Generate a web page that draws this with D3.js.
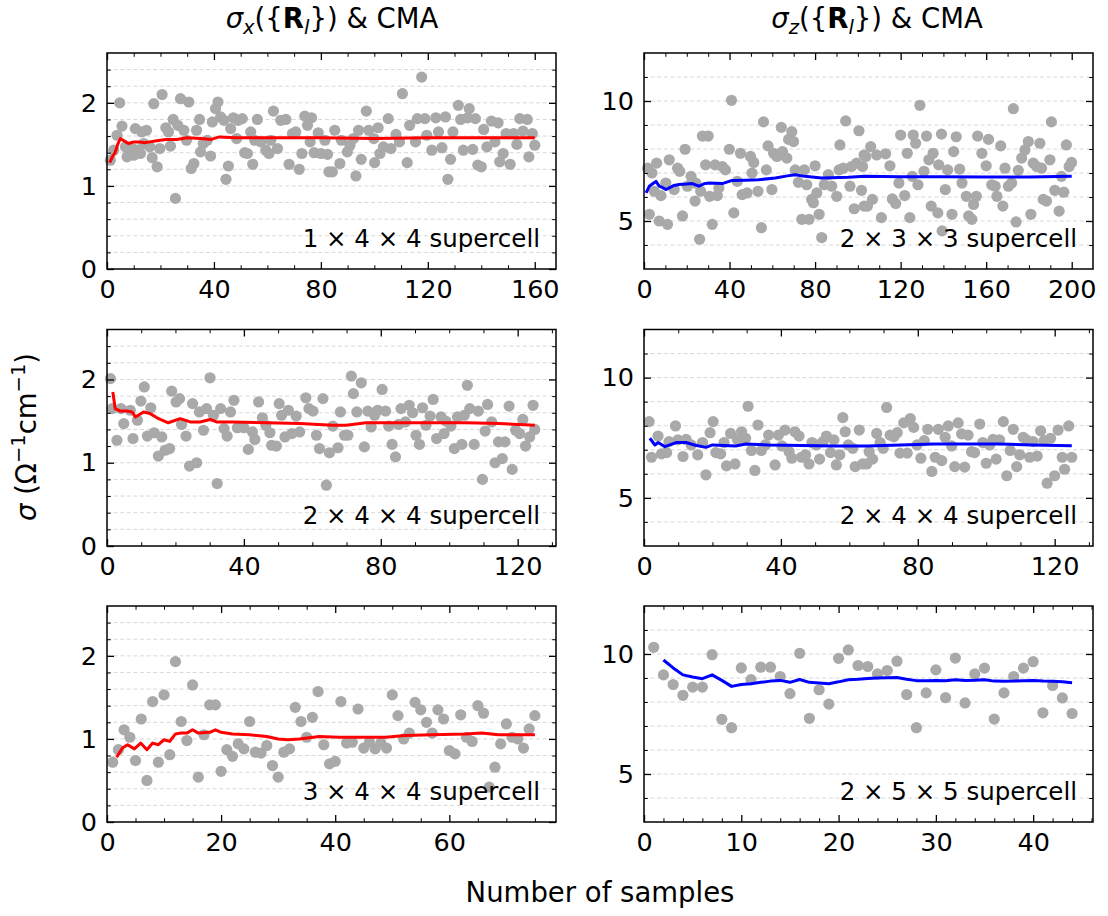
<!DOCTYPE html>
<html><head><meta charset="utf-8">
<script src="https://cdn.jsdelivr.net/npm/d3@7/dist/d3.min.js"></script>
<style>body{margin:0;background:#fff}text{font-family:"DejaVu Sans",sans-serif;fill:#000}</style>
</head><body><svg id="c" width="1108" height="916"></svg>
<script>
// ---------- data ----------
const tlX=[1.25,2.5,3.75,4.75,5.6,7.5,6.9,9.4,10,10.6,11.25,12.5,13,13.75,14.75,16,16.9,17.5,18.75,19.75,20.6,22,23,23.75,24.75,25.6,26.5,27.5,28.75,29.75,30.6,31.5,32.5,33.5,34.6,35,36,37.5,38.75,39.4,40.6,41.5,42.5,43.75,44.5,45.4,46.25,47.25,48.5,49,50.6,51.5,52.5,53.75,54.5,55.25,56.25,57.5,59.4,60.6,61.25,62.25,63.75,65,66.9,68.1,69.4,70.6,71.9,72.9,74,75,76,76.5,77.5,79,80,81.5,82.5,83,84.3,85.2,87.1,87.7,89.9,90.9,92.2,93.1,94.1,95.1,97,97.9,99.8,100.1,101.4,102.1,103.4,105.2,106.2,108.1,109.4,110.5,112.3,113.2,115.4,116.1,117.7,118.9,119.6,121.5,123,124,125.3,126.6,127.5,128.5,129.4,131.4,132.3,133.3,134.9,135.5,136.8,137.8,138.7,140,140.9,142.1,143.8,145.1,146.3,146.9,148.2,149.3,150.8,152.1,153.3,154.4,155.6,157.2,157.8,159.1,160];
const tlY=[1.31,1.43,1.61,2.0,1.72,1.35,1.47,1.45,1.37,1.69,1.43,1.39,1.65,1.51,1.67,1.47,1.34,1.99,1.23,1.45,2.1,1.70,1.65,1.48,1.8,0.85,1.73,2.05,1.67,1.55,2.01,1.21,1.27,1.67,1.80,1.41,1.51,1.55,1.36,1.77,1.93,2.01,1.83,1.79,1.08,1.24,1.69,1.82,1.57,1.79,1.81,1.40,1.39,1.65,1.26,1.55,1.80,1.53,1.43,1.39,1.55,1.90,1.45,1.79,1.80,1.26,1.63,1.65,1.20,1.39,1.84,1.73,1.53,1.82,1.40,1.64,1.39,1.55,1.38,1.17,1.17,1.67,1.27,1.55,1.41,1.49,1.57,1.12,1.67,1.32,1.90,1.67,1.57,1.28,1.70,1.39,1.47,1.81,1.45,1.62,1.53,2.11,1.28,1.73,1.53,1.81,2.31,1.81,1.61,1.43,1.82,1.65,1.46,1.83,1.08,1.32,1.65,1.97,1.80,1.43,1.82,1.93,1.44,1.81,1.25,1.23,1.68,1.47,1.78,1.53,1.76,1.29,1.39,1.63,1.26,1.63,1.50,1.81,1.66,1.80,1.35,1.63,1.49];
const tlCmaX=[1,2,3,4,5,6,7,8,9,10,12,14,16,18,20,22,26,30,35,39,42,48,60,80,100,120,140,160];
const tlCmaY=[1.28,1.35,1.40,1.50,1.57,1.55,1.53,1.51,1.52,1.53,1.53,1.52,1.53,1.54,1.55,1.56,1.56,1.58,1.57,1.56,1.59,1.58,1.58,1.58,1.57,1.58,1.58,1.58];

const trX=[1.7,2.5,3.7,5.9,4.8,7.1,7.9,10.2,11,11.8,14.1,15.7,16.7,18,19.2,20.3,22,23.9,24.2,26,26.5,27.3,28.8,30,30.7,31.9,33.2,34.3,35,36.6,38.1,39.9,40.9,42,43.6,45.1,45.9,48.2,49.8,50.5,51.3,53.3,54.9,55.9,57.2,58,59.8,60.6,62.2,64.2,64.8,66.8,67.6,69.1,69.9,70.7,72.2,73.8,75,76.1,77.2,78.4,79.2,80,80.8,81.9,83.1,84.3,86.2,87.8,90.1,91.2,91.6,93.2,94.3,96.3,97,98.3,99.4,100.5,101.7,102.9,102.9,103.7,102.2,104.5,106,106.8,108.8,111,113,115,116.1,117.7,119.2,120,121.9,123.1,124.3,125.4,125.9,127,128.1,129,130.9,132.1,133.2,134.3,135.2,137.4,137.8,139.1,139.4,140.9,142,144,144.8,146,147.6,148.7,150.7,151.8,153.3,154.1,155.4,156,158,160,161.1,162.6,164.2,165,166.8,167.8,168.8,170.4,171.9,172.7,174,175,176.6,178.1,179.7,180.9,182,183.6,185.1,185.9,186.7,188.2,189.8,190.5,192.1,194.1,195.2,196.3,197.5,198.8,199.9];
const trY=[7.20,5.28,7.0,7.41,6.24,5.0,6.06,6.58,4.86,7.55,6.31,7.20,7.07,5.21,7.99,6.45,6.86,5.83,6.58,4.24,6.24,8.54,7.34,8.54,6.03,4.86,7.34,6.06,6.38,7.27,7.13,7.99,10.03,5.34,6.65,7.82,6.10,6.17,7.69,7.0,7.44,6.24,4.72,9.13,7.13,8.13,6.31,7.82,7.69,8.90,7.89,7.62,8.40,8.72,8.31,7.13,6.61,5.07,7.13,6.51,5.07,5.90,5.76,7.30,6.17,5.28,4.31,6.51,6.93,6.45,6.03,7.13,8.17,7.20,9.17,6.45,7.27,5.51,7.41,8.76,6.28,7.75,5.62,7.69,7.27,5.62,8.10,5.90,7.75,5.14,7.80,7.30,5.92,5.73,6.58,8.58,6.06,7.82,5.14,6.86,8.58,8.24,6.51,9.82,7.07,8.54,7.55,5.62,7.82,5.34,7.34,8.62,4.59,6.31,7.13,5.28,7.89,8.51,7.16,6.58,6.03,5.21,5.07,5.69,6.03,8.54,7.82,7.30,8.40,6.51,6.45,6.03,8.13,5.62,7.20,6.45,6.58,9.68,4.96,7.11,7.62,7.96,8.31,5.28,7.41,7.27,8.24,7.20,5.90,5.83,7.55,9.13,6.28,5.41,6.86,6.20,8.17,7.27,7.44];
const trCmaX=[1,2.5,4,5.6,7.1,8.5,10.2,11.8,14,16.4,20,22.6,25.7,28,30.4,36.6,41.2,47,53.6,61.4,67,70.7,75.3,83,95.5,103.3,120,140,160,180,200];
const trCmaY=[6.17,6.45,6.55,6.65,6.45,6.40,6.31,6.38,6.48,6.52,6.54,6.56,6.45,6.55,6.58,6.56,6.69,6.70,6.72,6.79,6.88,6.93,6.86,6.79,6.82,6.86,6.84,6.84,6.83,6.83,6.86];

const mlX=[1,1.5,2.9,4.1,4.9,6.8,7.6,8.9,9.9,10.9,11.8,12.8,13.8,15,16,17,18.3,18.9,20.2,21.2,21.8,23.1,24.1,25,26.2,27,28.2,29.1,30.1,31.1,32.2,33.2,34.2,35.1,36.1,37.1,38.1,40,41.3,42.5,43.2,44.3,45.4,46.4,47.6,48.1,49.5,50.3,51,52,53,54,55.3,56.3,58.1,59,60.2,61.2,62.1,63.1,64.1,65,66,67.5,68.2,69.4,70.4,71.4,72,73,74.3,75.2,76.2,77.2,78.2,79.1,80.4,81.4,82.3,83.3,84.3,85.2,85.9,87.2,88.3,89.3,90.3,91.3,92.2,93.2,94.4,95.3,96.3,97.6,98.5,99,100.5,101.5,102.4,103.7,104.4,105.3,106,107.3,108.5,109.7,110.5,111.2,112.4,113.4,114.4,115.5,116.3,117.5,118.4,119.4,120.6,121.5,122.3,123.5,124.5,125];
const mlY=[2.01,1.65,1.27,1.65,1.47,1.63,1.29,1.51,1.74,1.91,1.32,1.66,1.36,1.08,1.31,1.15,1.17,1.86,1.73,1.77,1.46,1.32,0.96,1.71,1.0,1.61,1.39,1.65,2.02,1.57,0.75,1.65,1.41,1.32,1.61,1.75,1.42,1.42,1.16,1.37,1.28,1.73,1.54,1.45,1.36,1.21,1.20,1.71,1.57,1.31,1.63,1.35,1.56,1.37,1.78,1.65,1.62,1.33,1.17,1.77,0.73,1.12,1.44,1.18,1.61,1.33,1.33,2.04,1.83,1.61,1.96,1.19,1.62,1.43,1.57,1.63,1.88,1.62,1.44,1.22,1.07,1.46,1.65,1.49,1.69,1.60,1.33,1.22,1.66,1.45,1.56,1.76,1.29,1.55,1.35,1.50,1.44,1.17,1.55,1.22,1.57,1.93,1.65,1.22,1.62,0.80,1.38,1.70,1.49,1.0,1.25,1.05,1.25,1.68,0.92,1.39,1.35,1.52,1.20,1.31,1.69,1.40];
const mlCmaX=[1.7,2.4,3.9,5.8,7.3,8.3,10.7,12.6,14.6,17.9,21.4,24.3,27.2,30.1,32,36.9,46.6,56.3,66,69.9,75.7,85.4,95.1,104.9,114.6,125];
const mlCmaY=[1.85,1.65,1.62,1.62,1.61,1.55,1.61,1.59,1.54,1.48,1.53,1.49,1.49,1.52,1.49,1.49,1.48,1.47,1.45,1.45,1.48,1.48,1.48,1.48,1.47,1.45];

const mrX=[1.5,2.2,4.1,5.1,6.6,7.3,9.2,9.9,11.4,12.3,13.8,15.7,17.1,18.1,19.3,20.2,21,22.4,23.4,24.1,25.3,26.6,27.3,28.5,29.7,30.4,31.4,32.4,33.3,34.3,35.5,36.4,38.3,39.3,40.3,41.2,42.4,43.2,44.1,45.3,46,47.2,48.2,49.1,50.4,51.3,52.3,53.3,54.5,55.5,56.2,57.2,58.1,58.8,59.7,61,61.7,62.9,63.9,65.1,65.8,66.8,68,69,69.9,70.9,71.9,73,74,74.8,75.9,76.9,77.8,78.8,79.8,80.9,81.9,82.9,84.1,85.1,86,87,88,88.9,89.9,90.8,91.8,92.8,93.7,94.7,95.7,96.6,98.1,99,100,101,102,102.9,103.9,105,106,107,107.9,108.9,109.8,110.8,111.8,112.7,113.7,114.9,115.9,116.9,117.8,118.8,120,121,122.2,122.9,124.1,125];
const mrY=[8.17,6.69,7.57,6.83,6.88,7.34,7.99,7.41,6.72,7.43,7.2,6.79,7.30,5.96,7.71,8.17,6.88,6.83,7.30,6.33,7.68,6.41,7.43,7.75,7.48,8.81,6.97,6.14,8.03,6.97,7.2,7.61,6.37,7.61,7.16,7.82,6.92,6.65,7.75,7.57,6.69,6.79,6.41,7.30,7.2,6.61,7.34,7.57,6.88,7.41,6.37,6.79,8.34,7.75,7.2,7.06,6.30,7.82,6.41,6.41,6.92,6.61,7.68,7.30,7.06,8.76,7.61,7.54,7.71,6.86,8.12,6.86,8.30,7.93,7.2,6.65,7.38,7.85,6.10,6.69,7.85,6.55,7.52,7.99,7.16,6.30,8.12,7.66,6.28,7.61,6.92,6.88,8.07,7.30,6.44,7.2,7.43,6.61,7.41,8.17,5.92,6.97,7.85,6.30,6.79,7.52,7.41,6.69,7.34,6.74,7.79,7.38,5.61,7.48,5.92,7.82,6.69,6.19,7.99,6.69];
const mrCmaX=[1.7,3.2,4.1,6.1,9.4,12.3,14.7,18.1,20,26.8,29.7,36.4,55.7,65.3,75,84.6,94.2,103.9,113.5,125];
const mrCmaY=[7.48,7.2,7.30,7.13,7.30,7.30,7.2,7.10,7.2,7.16,7.24,7.2,7.16,7.16,7.2,7.24,7.24,7.24,7.2,7.17];

const blY=[0.72,0.87,1.11,1.02,0.74,1.24,0.50,1.45,0.72,1.53,0.81,1.93,1.21,0.98,1.65,0.54,1.05,1.41,1.41,0.61,0.87,0.79,0.94,0.88,1.21,0.84,0.83,0.92,0.68,0.54,0.84,0.88,1.38,1.21,1.02,1.26,1.57,0.93,0.70,0.73,1.45,0.95,0.96,1.36,0.89,0.96,0.88,0.95,0.89,1.53,1.28,1.0,1.07,1.44,1.35,1.2,1.07,1.35,1.24,0.86,0.82,1.29,1.02,0.97,1.40,1.31,0.42,0.66,0.94,1.18,1.02,1.0,0.89,1.12,1.28];
const blCmaX=[1.7,2.7,3.6,4.8,5.9,7,8,9,10,11,12,13,14,15,16,18,19,20,22,25,28,30,31.7,33.7,37.2,40.7,45.3,48.8,52.3,57,62.8,65.7,68.6,75];
const blCmaY=[0.78,0.89,0.93,0.88,0.95,0.87,0.95,0.93,0.99,0.97,1.06,1.07,1.07,1.11,1.07,1.08,1.11,1.08,1.06,1.05,1.03,1.0,0.99,1.0,1.03,1.02,1.02,1.02,1.04,1.05,1.06,1.07,1.05,1.05];

const brY=[10.28,9.13,8.73,8.28,8.62,8.62,9.97,7.28,6.93,9.42,8.93,9.45,9.45,9.06,8.35,10.03,7.32,8.51,7.91,9.82,10.17,9.52,9.48,9.17,9.31,9.70,8.31,6.93,8.38,9.34,8.18,9.83,7.96,9.17,9.41,7.29,8.38,9.06,9.41,9.68,7.55,8.69,8.17,7.52];
const brCmaX=[2,3,4,5,6,7,8,9,10,11,12,13,14,15,16,17,18,19,20,21,22,23,24,25,26,27,28,29,30,31,32,33,34,35,36,37,38,39,40,41,42,43,44];
const brCmaY=[9.75,9.42,9.13,9.04,8.97,9.13,8.9,8.65,8.73,8.76,8.82,8.87,8.90,8.82,8.94,8.82,8.79,8.76,8.84,8.93,8.95,8.98,9.0,9.01,9.02,8.95,8.89,8.89,8.90,8.89,8.93,8.90,8.91,8.93,8.87,8.86,8.87,8.89,8.90,8.87,8.86,8.84,8.80];

const panelLabels=["1 × 4 × 4 supercell","2 × 3 × 3 supercell","2 × 4 × 4 supercell","2 × 4 × 4 supercell","3 × 4 × 4 supercell","2 × 5 × 5 supercell"];
const xMajorTicks=[[0,40,80,120,160],[0,40,80,120,160,200],[0,40,80,120],[0,40,80,120],[0,20,40,60],[0,10,20,30,40]];
const xMinorStep=[10,10,10,10,5,2];
const xMax=[167.95,209.95,131.2,131.2,78.7,46.15];
const yMajorLeft=[0,1,2], yMajorRight=[5,10];

// ---------- drawing ----------
const svg=d3.select('#c');
const cols=[[107,556],[644,1093]];
const rows=[[53,269],[329.5,546],[606,822]];
const blX=d3.range(1,blY.length+1), brX=d3.range(1,brY.length+1);
const panels=[
 {xs:tlX,ys:tlY,cx:tlCmaX,cy:tlCmaY,color:'#ff0000',left:true},
 {xs:trX,ys:trY,cx:trCmaX,cy:trCmaY,color:'#0000ff',left:false},
 {xs:mlX,ys:mlY,cx:mlCmaX,cy:mlCmaY,color:'#ff0000',left:true},
 {xs:mrX,ys:mrY,cx:mrCmaX,cy:mrCmaY,color:'#0000ff',left:false},
 {xs:blX,ys:blY,cx:blCmaX,cy:blCmaY,color:'#ff0000',left:true},
 {xs:brX,ys:brY,cx:brCmaX,cy:brCmaY,color:'#0000ff',left:false}
];
const fs=25.5;
panels.forEach((p,i)=>{
  const [x0,x1]=cols[i%2], [y0,y1]=rows[Math.floor(i/2)];
  const x=d3.scaleLinear().domain([0,xMax[i]]).range([x0,x1]);
  const y=p.left? d3.scaleLinear().domain([0,2.6]).range([y1,y0]) : d3.scaleLinear().domain([3,12]).range([y1,y0]);
  const yMinor=p.left? d3.range(1,13).map(k=>+(k*0.2).toFixed(1)) : d3.range(4,12);
  const yMajor=p.left? yMajorLeft : yMajorRight;
  const xMinor=d3.range(0,xMax[i],xMinorStep[i]).filter(v=>!xMajorTicks[i].includes(v));
  const g=svg.append('g');
  g.selectAll('line.grid').data(yMinor).join('line')
   .attr('x1',x0).attr('x2',x1).attr('y1',d=>y(d)).attr('y2',d=>y(d))
   .attr('stroke','#d8d8d8').attr('stroke-width',1).attr('stroke-dasharray','4,2.6');
  g.selectAll('circle').data(d3.zip(p.xs,p.ys)).join('circle')
   .attr('cx',d=>x(d[0])).attr('cy',d=>y(d[1])).attr('r',5.6).attr('fill','#a9a9a9');
  g.append('path').datum(d3.zip(p.cx,p.cy))
   .attr('d',d3.line().x(d=>x(d[0])).y(d=>y(d[1])))
   .attr('fill','none').attr('stroke',p.color).attr('stroke-width',3).attr('stroke-linejoin','round');
  const style=(sel,w)=>{sel.select('.domain').remove();sel.selectAll('.tick line').attr('stroke','#000').attr('stroke-width',w);};
  const ax=(gen,tr,vals,size,fmt,w,pad)=>{
    const a=g.append('g').attr('transform',tr).call(gen.tickValues(vals).tickSize(size).tickSizeOuter(0).tickPadding(pad).tickFormat(fmt));
    style(a,w);
    a.selectAll('text').attr('font-size',fs).attr('font-family','DejaVu Sans');
    return a;
  };
  ax(d3.axisBottom(x),`translate(0,${y1})`,xMajorTicks[i],-7,d3.format('d'),1.3,11);
  ax(d3.axisBottom(x),`translate(0,${y1})`,xMinor,-3.8,()=>'',1,7);
  ax(d3.axisTop(x),`translate(0,${y0})`,xMajorTicks[i],-7,()=>'',1.3,7);
  ax(d3.axisTop(x),`translate(0,${y0})`,xMinor,-3.8,()=>'',1,7);
  ax(d3.axisLeft(y),`translate(${x0},0)`,yMajor,-7,d3.format('d'),1.3,10);
  ax(d3.axisLeft(y),`translate(${x0},0)`,yMinor.filter(v=>!yMajor.includes(v)),-3.8,()=>'',1,7);
  ax(d3.axisRight(y),`translate(${x1},0)`,yMajor,-7,()=>'',1.3,7);
  ax(d3.axisRight(y),`translate(${x1},0)`,yMinor.filter(v=>!yMajor.includes(v)),-3.8,()=>'',1,7);
  g.append('rect').attr('x',x0).attr('y',y0).attr('width',x1-x0).attr('height',y1-y0)
   .attr('fill','none').attr('stroke','#000').attr('stroke-width',1.5);
  g.append('text').attr('x',x1-16).attr('y',y1-22.5).attr('text-anchor','end').attr('font-size',24.5).text(panelLabels[i]);
});

function title(xc,sub){
  const t=svg.append('text').attr('x',xc).attr('y',28).attr('text-anchor','middle').attr('font-size',27.5);
  t.append('tspan').attr('font-style','italic').text('σ');
  t.append('tspan').attr('font-style','italic').attr('font-size',19.5).attr('dy',5.5).text(sub);
  t.append('tspan').attr('dy',-5.5).text('({');
  t.append('tspan').attr('font-weight','bold').text('R');
  t.append('tspan').attr('font-style','italic').attr('font-size',19.5).attr('dy',5.5).text('l');
  t.append('tspan').attr('dy',-5.5).text('}) & CMA');
}
title(332,'x');
title(877,'z');
svg.append('text').attr('x',600).attr('y',902).attr('text-anchor','middle').attr('font-size',27.5).text('Number of samples');
const yl=svg.append('text').attr('transform','translate(36,437) rotate(-90)').attr('text-anchor','middle').attr('font-size',27.5);
yl.append('tspan').attr('font-style','italic').text('σ');
yl.append('tspan').text(' (Ω');
yl.append('tspan').attr('font-size',19.5).attr('dy',-11).text('−1');
yl.append('tspan').attr('dy',11).text('cm');
yl.append('tspan').attr('font-size',19.5).attr('dy',-11).text('−1');
yl.append('tspan').attr('dy',11).text(')');
</script></body></html>
